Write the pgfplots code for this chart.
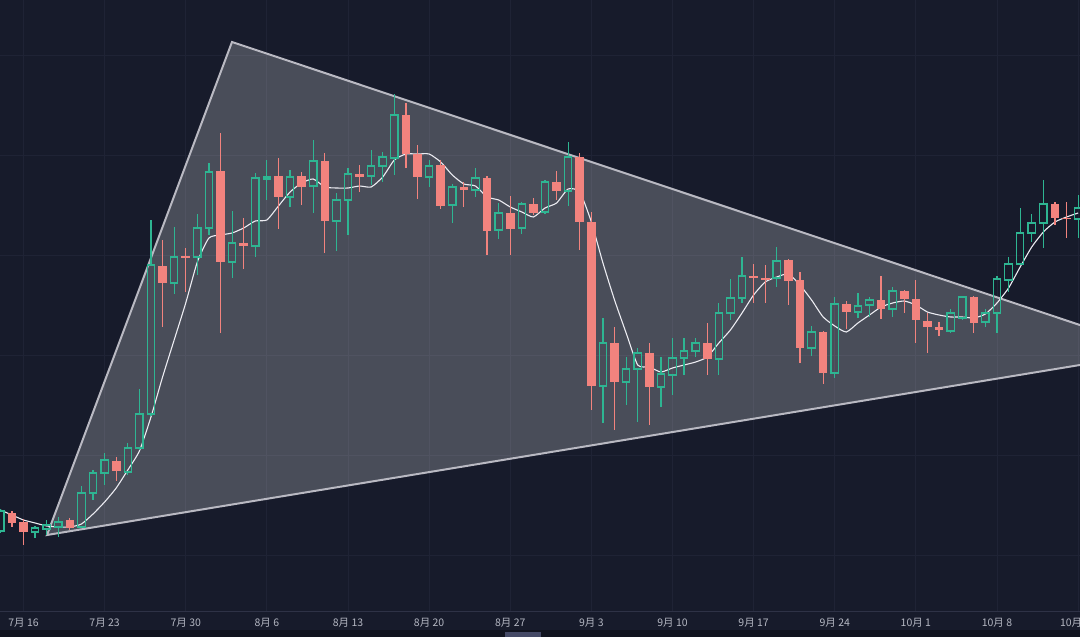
\documentclass[border=0pt]{standalone}
\usepackage{pgfplots}
\pgfplotsset{compat=1.18}
\usepackage{pgfplotstable}
\usepackage{fontspec}
\newfontfamily\cjk{Noto Sans CJK SC}
\definecolor{bg}{HTML}{171B2B}
\definecolor{bgdark}{HTML}{11141F}
\definecolor{upc}{HTML}{2EB592}
\definecolor{dnc}{HTML}{F2837E}
\definecolor{gridc}{HTML}{1F2335}
\definecolor{sepc}{HTML}{2E3246}
\definecolor{tickc}{HTML}{B4B7C2}
\definecolor{tric}{HTML}{B9B9C2}
\definecolor{mac}{HTML}{ECECF2}
\definecolor{tabc}{HTML}{454A66}

\pgfdeclareplotmark{candleup}{%
  \pgfpathrectangle{\pgfpoint{-3.7pt}{0pt}}{\pgfpoint{7.4pt}{\cdbody pt}}%
  \pgfusepathqstroke
  \pgfpathmoveto{\pgfpoint{0pt}{\cdlo pt}}\pgfpathlineto{\pgfpoint{0pt}{0pt}}%
  \pgfpathmoveto{\pgfpoint{0pt}{\cdbody pt}}\pgfpathlineto{\pgfpoint{0pt}{\cdhi pt}}%
  \pgfusepathqstroke
}
\pgfdeclareplotmark{candledown}{%
  \pgfpathrectangle{\pgfpoint{-4.3pt}{0pt}}{\pgfpoint{8.6pt}{\cdbody pt}}%
  \pgfusepathqfill
  \pgfpathmoveto{\pgfpoint{0pt}{\cdlo pt}}\pgfpathlineto{\pgfpoint{0pt}{\cdhi pt}}%
  \pgfusepathqstroke
}

% rising candles: day, open, high, low, close
\pgfplotstableread{
d o h l c
-2 109 131 107 129
1 108 114 102 112
2 111 120 105 115
3 113 123 103 118
5 113 154 112 147
6 147 170 140 167
7 167 187 155 180
9 168 197 165 192
10 192 251 190 226
11 226 420 224 375
13 357 413 346 383
15 383 426 365 412
16 412 477 405 468
18 378 429 362 397
20 394 467 383 462
21 461 480 440 463
23 443 470 433 463
25 454 500 427 479
27 419 447 389 440
28 440 472 405 466
30 464 490 455 474
31 474 488 458 483
32 482 546 465 525
35 463 480 453 474
37 435 456 417 453
39 450 472 443 462
41 410 437 401 427
43 412 438 406 436
45 428 460 426 458
47 449 498 434 483
50 254 322 217 297
52 258 283 235 271
53 271 292 218 287
55 253 283 233 266
56 265 302 245 282
57 282 302 265 289
58 289 302 283 297
60 281 337 265 327
61 327 361 320 342
62 342 383 337 364
65 362 393 353 379
68 292 314 284 308
70 267 343 262 336
72 328 347 322 334
73 335 343 323 340
75 331 353 323 349
80 309 331 307 327
81 322 344 320 343
83 318 331 313 327
84 327 364 307 361
85 360 383 348 376
86 376 432 375 407
87 407 426 398 417
88 417 460 392 436
91 421 445 402 432
}\updata

% falling candles: day, open, high, low, close
\pgfplotstableread{
d o h l c
-1 127 129 113 117
0 118 121 95 108
4 120 122 110 112
8 179 183 159 169
12 374 400 313 357
14 384 392 348 382
17 469 507 307 378
19 397 422 371 394
22 464 482 411 443
24 464 468 435 453
26 479 487 387 419
29 466 475 448 463
33 525 537 472 486
34 486 495 441 463
36 475 480 431 434
38 453 458 433 450
40 462 464 385 409
42 427 444 385 411
44 436 442 425 427
46 458 469 440 449
48 483 487 390 418
49 418 428 230 254
51 297 313 210 258
54 287 297 215 253
59 297 317 265 281
63 364 376 337 362
64 362 375 337 360
66 380 381 335 359
67 360 368 277 292
69 308 309 256 267
71 336 339 311 328
74 340 364 321 331
76 349 350 327 341
77 341 360 297 320
78 319 327 287 313
79 313 318 304 310
82 343 344 307 317
89 436 438 415 422
90 422 438 402 421
}\downdata

% moving average
\pgfplotstableread{
d ma
-2 130
-1 125
0 120
1 117
2 114
3 113
4 113
5 116
6 126
7 138
8 152
9 170
10 189
11 223
12 263
13 300
14 337
15 378
16 402
17 405
18 407
19 412
20 419
21 420
22 434
23 448
24 457
25 461
26 453
27 452
28 452
29 454
30 453
31 463
32 480
33 486
34 486
35 486
36 478
37 465
38 456
39 454
40 443
41 440
42 433
43 428
44 423
45 432
46 437
47 451
48 448
49 418
50 377
51 340
52 307
53 275
54 273
55 268
56 272
57 275
58 278
59 283
60 297
61 310
62 327
63 345
64 358
65 363
66 366
67 355
68 340
69 323
70 314
71 308
72 317
73 325
74 333
75 337
76 339
77 335
78 328
79 325
80 323
81 323
82 322
83 326
84 337
85 352
86 373
87 393
88 408
89 418
90 423
91 427
}\madata

\begin{document}
\begin{tikzpicture}
\useasboundingbox (0,-25pt) rectangle (1080pt,612pt);
\fill[bg] (0,-25pt) rectangle (1080pt,612pt);
\fill[bgdark] (0,-25pt) rectangle (1080pt,-18pt);
\fill[tabc] (505pt,-25pt) rectangle (541pt,-20pt);
\begin{axis}[
  at={(0,0)}, anchor=south west,
  scale only axis, width=1080pt, height=612pt,
  xmin=-2.0276, xmax=91.157, ymin=28, ymax=640,
  axis line style={draw=none},
  xtick={0,7,14,21,28,35,42,49,56,63,70,77,84,91},
  xticklabels={7月 16,7月 23,7月 30,8月 6,8月 13,8月 20,8月 27,9月 3,9月 10,9月 17,9月 24,10月 1,10月 8,10月 15},
  xticklabel style={font=\cjk\fontsize{10.5}{12}\selectfont, text=tickc, yshift=-2.5pt},
  ytick={85,185,285,385,485,585},
  yticklabels={},
  major tick length=0pt,
  xmajorgrids, ymajorgrids,
  grid style={gridc, line width=0.8pt},
  clip=true,
]
% triangle
\addplot[fill=white, fill opacity=0.22, draw=tric, line width=2pt]
  coordinates {(2.028,105) (17.99,598) (98.08,288.2)} -- cycle;
% rising candles (hollow)
\addplot[scatter, only marks, mark=candleup, draw=upc, color=upc, line width=1.2pt,
  scatter/@pre marker code/.code={}, scatter/@post marker code/.code={},
  mark options={draw=upc, line width=1.2pt},
  visualization depends on={\thisrow{c}-\thisrow{o} \as \cdbody},
  visualization depends on={\thisrow{h}-\thisrow{o} \as \cdhi},
  visualization depends on={\thisrow{l}-\thisrow{o} \as \cdlo},
] table[x=d, y=o] {\updata};
% falling candles (filled)
\addplot[scatter, only marks, mark=candledown, draw=dnc, fill=dnc, color=dnc, line width=1.2pt,
  scatter/@pre marker code/.code={}, scatter/@post marker code/.code={},
  mark options={draw=dnc, fill=dnc, line width=1.2pt},
  visualization depends on={\thisrow{o}-\thisrow{c} \as \cdbody},
  visualization depends on={\thisrow{h}-\thisrow{c} \as \cdhi},
  visualization depends on={\thisrow{l}-\thisrow{c} \as \cdlo},
] table[x=d, y=c] {\downdata};
% moving average
\addplot[mac, line width=1.1pt, smooth, tension=0.35, no marks] table[x=d, y=ma] {\madata};
\draw[sepc, line width=1pt] (rel axis cs:0,0) -- (rel axis cs:1,0);
\end{axis}
\end{tikzpicture}
\end{document}
